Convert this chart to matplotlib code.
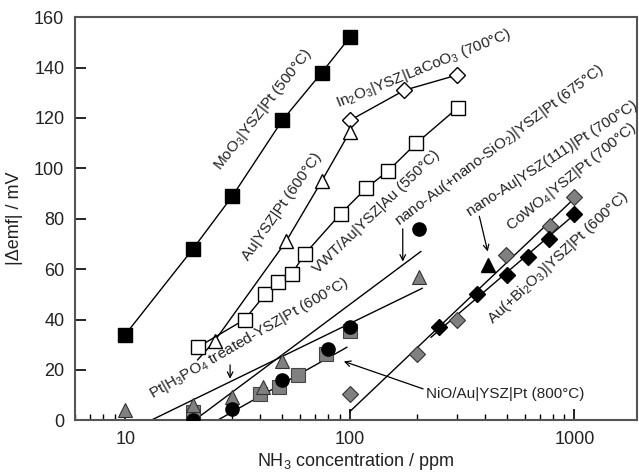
import matplotlib
matplotlib.use("Agg")
import matplotlib.pyplot as plt
from matplotlib.ticker import FixedLocator, NullFormatter, LogLocator

plt.rcParams["font.family"] = ["Liberation Sans", "DejaVu Sans"]
plt.rcParams["mathtext.fontset"] = "custom"
plt.rcParams["mathtext.rm"] = "Liberation Sans"

# ---- measured points (NH3 ppm, |delta emf| mV) ----
MOO3_X = [10, 20, 30, 50, 75, 100]
MOO3_Y = [34, 68, 89, 119, 138, 152]

IN2O3_X = [100, 175, 300]
IN2O3_Y = [119, 131, 137]

AU_X = [25, 52, 75, 100]
AU_Y = [31.5, 71, 95, 114.5]

VWT_X = [21, 34, 42, 48, 55, 63, 91, 118, 148, 198, 302]
VWT_Y = [29, 40, 50, 55, 58, 66, 82, 92, 99, 110, 124]

PT_H3PO4_X = [10, 20, 30, 41, 50, 204]
PT_H3PO4_Y = [4, 6, 9.3, 13.2, 23.5, 57]

NIO_X = [20, 40, 48.5, 59, 78, 100]
NIO_Y = [3.3, 10.6, 13.2, 18, 26.2, 35.4]

SIO2_X = [20, 30, 50, 80, 100, 204]
SIO2_Y = [0, 4.6, 16.1, 28.4, 37, 76]

YSZ111_X = [411]
YSZ111_Y = [61.5]

COWO4_X = [100, 200, 300, 495, 780, 1000]
COWO4_Y = [10.6, 26.3, 40, 65.5, 77, 88.5]

BI2O3_X = [250, 367, 500, 620, 770, 1000]
BI2O3_Y = [37, 50, 57.5, 65, 72, 82]

# ---- straight fit lines (end points) ----
AU_TAIL_X = [21, 25]
AU_TAIL_Y = [24, 31.5]
PT_LINE_X = [13, 210]
PT_LINE_Y = [0, 52.4]
SIO2_LINE_X = [20.3, 207]
SIO2_LINE_Y = [0, 67]
NIO_LINE_X = [25.7, 97]
NIO_LINE_Y = [0, 29]
COWO4_LINE_X = [100, 1010]
COWO4_LINE_Y = [3.5, 88.5]
BI2O3_LINE_X = [230, 1010]
BI2O3_LINE_Y = [33, 82]

GRAY = "#808080"

fig = plt.figure(figsize=(6.39, 4.75), dpi=100)
ax = fig.add_axes([0.118, 0.115, 0.879, 0.849])
ax.set_xscale("log")

# fit lines first so markers sit on top
for lx, ly in [(AU_TAIL_X, AU_TAIL_Y), (PT_LINE_X, PT_LINE_Y),
               (SIO2_LINE_X, SIO2_LINE_Y), (NIO_LINE_X, NIO_LINE_Y),
               (COWO4_LINE_X, COWO4_LINE_Y), (BI2O3_LINE_X, BI2O3_LINE_Y)]:
    ax.plot(lx, ly, color="black", lw=1.0, zorder=2)

ax.plot(MOO3_X, MOO3_Y, "s-", color="black", mfc="black", mec="black", ms=10.5, lw=1.0, zorder=3)
ax.plot(IN2O3_X, IN2O3_Y, "D-", color="black", mfc="white", mec="black", ms=8.5, mew=1.0, lw=1.0, zorder=3)
ax.plot(AU_X, AU_Y, "^-", color="black", mfc="white", mec="black", ms=10, mew=1.0, lw=1.0, zorder=3)
ax.plot(VWT_X, VWT_Y, "s-", color="black", mfc="white", mec="black", ms=10.5, mew=1.0, lw=1.0, zorder=3)
ax.plot(NIO_X, NIO_Y, "s", mfc=GRAY, mec="#444444", ms=10, mew=0.8, ls="none", zorder=3)
ax.plot(PT_H3PO4_X, PT_H3PO4_Y, "^", mfc=GRAY, mec="#333333", ms=10, mew=0.8, ls="none", zorder=4)
ax.plot(SIO2_X, SIO2_Y, "o", mfc="black", mec="black", ms=9.5, ls="none", zorder=5)
ax.plot(YSZ111_X, YSZ111_Y, "^", mfc="black", mec="black", ms=10, ls="none", zorder=5)
ax.plot(COWO4_X, COWO4_Y, "D", mfc=GRAY, mec="#333333", ms=8.5, mew=0.8, ls="none", zorder=4)
ax.plot(BI2O3_X, BI2O3_Y, "D", mfc="black", mec="black", ms=8.5, ls="none", zorder=5)

# rotated labels
lab = dict(fontsize=11, color="#222222", rotation_mode="anchor", ha="left", va="baseline")
ax.text(26.5, 99, r"MoO$_\mathregular{3}$|YSZ|Pt (500°C)", rotation=52, **lab)
ax.text(35.5, 63, "Au|YSZ|Pt (600°C)", rotation=55, **lab)
ax.text(89, 124, r"In$_\mathregular{2}$O$_\mathregular{3}$|YSZ|LaCoO$_\mathregular{3}$ (700°C)", rotation=22, **lab)
ax.text(72, 58, "VWT/Au|YSZ|Au (550°C)", rotation=44, **lab)
ax.text(13.2, 8.5, r"Pt|H$_\mathregular{3}$PO$_\mathregular{4}$ treated-YSZ|Pt (600°C)", rotation=30, **lab)
ax.text(165, 77, r"nano-Au(+nano-SiO$_\mathregular{2}$)|YSZ|Pt (675°C)", rotation=37, **lab)
ax.text(345, 81, "nano-Au|YSZ(111)|Pt (700°C)", rotation=33, **lab)
ax.text(520, 75, r"CoWO$_\mathregular{4}$|YSZ|Pt (700°C)", rotation=39, **lab)
ax.text(430, 38, r"Au(+Bi$_\mathregular{2}$O$_\mathregular{3}$)|YSZ|Pt (600°C)", rotation=43, **lab)
ax.text(219, 10.5, "NiO/Au|YSZ|Pt (800°C)", fontsize=11, color="#222222", ha="left", va="center")

# arrows
arr = dict(arrowstyle="->", color="black", lw=0.9, shrinkA=0, shrinkB=0)
ax.annotate("", xy=(172, 63), xytext=(172, 76), arrowprops=arr)
ax.annotate("", xy=(411, 67), xytext=(377, 81), arrowprops=arr)
ax.annotate("", xy=(29.3, 16.5), xytext=(29.3, 22), arrowprops=arr)
ax.annotate("", xy=(94, 23.4), xytext=(212, 12.5), arrowprops=arr)

ax.set_xlim(6, 1900)
ax.set_ylim(0, 160)
ax.xaxis.set_major_locator(FixedLocator([10, 100, 1000]))
ax.set_xticklabels(["10", "100", "1000"])
ax.xaxis.set_minor_locator(LogLocator(base=10, subs=range(2, 10)))
ax.xaxis.set_minor_formatter(NullFormatter())
ax.set_yticks(range(0, 161, 20))

ax.tick_params(which="major", direction="in", length=8, width=1.2, labelsize=13,
               labelcolor="#222222", pad=8, top=False, right=False)
ax.tick_params(which="minor", direction="in", length=4, width=1.0, top=False, right=False)
for s in ax.spines.values():
    s.set_color("#555555")
    s.set_linewidth(1.5)

ax.set_xlabel(r"NH$_\mathregular{3}$ concentration / ppm", fontsize=13, color="#222222", labelpad=2)
ax.set_ylabel("|Δemf| / mV", fontsize=13, color="#222222", labelpad=8)

fig.savefig("out.png", dpi=100)
